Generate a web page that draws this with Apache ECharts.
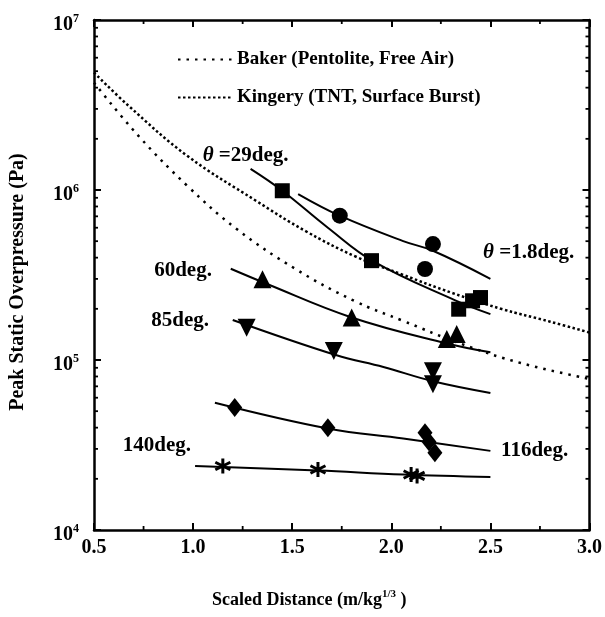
<!DOCTYPE html>
<html><head><meta charset="utf-8">
<script src="https://cdn.jsdelivr.net/npm/echarts@6/dist/echarts.min.js"></script>
<style>html,body{margin:0;padding:0;background:#fff}#c{width:605px;height:617px}</style>
</head><body><div id="c"></div>
<script>
const FONT = '"Liberation Serif", "Times New Roman", serif';

// ---- data (x: scaled distance m/kg^1/3, y: peak static overpressure Pa) ----
const sq29   = [[1.45,9.9e5],[1.90,3.84e5],[2.34,1.99e5],[2.41,2.23e5],[2.45,2.33e5]];
const circ18 = [[1.74,7.06e5],[2.21,4.81e5],[2.17,3.43e5]];
const tri60  = [[1.35,2.99e5],[1.80,1.78e5],[2.28,1.33e5],[2.33,1.42e5]];
const tri85  = [[1.27,1.55e5],[1.71,1.13e5],[2.21,8.6e4],[2.21,7.2e4]];
const dia116 = [[1.21,5.25e4],[1.68,4.0e4],[2.17,3.73e4],[2.19,3.3e4],[2.22,2.85e4]];
const ast140 = [[1.15,2.38e4],[1.63,2.27e4],[2.10,2.12e4],[2.13,2.08e4]];

const fit29  = [[1.29,1.33e6],[1.45,9.9e5],[1.68,6.0e5],[1.91,3.8e5],[2.32,2.25e5],[2.5,1.86e5]];
const fit18  = [[1.53,9.47e5],[1.74,7.06e5],[2.06,5.0e5],[2.21,4.39e5],[2.5,3.0e5]];
const fit60  = [[1.19,3.44e5],[1.37,2.81e5],[1.80,1.78e5],[2.27,1.26e5],[2.5,1.11e5]];
const fit85  = [[1.20,1.72e5],[1.72,1.07e5],[1.96,9.1e4],[2.21,7.5e4],[2.5,6.4e4]];
const fit116 = [[1.11,5.6e4],[1.68,3.95e4],[2.06,3.45e4],[2.5,2.92e4]];
const fit140 = [[1.01,2.38e4],[1.63,2.24e4],[2.06,2.12e4],[2.5,2.05e4]];

const kingery = [[0.5,4.91e6],[0.673,3.14e6],[0.97,1.59e6],[1.317,8.65e5],[1.564,5.76e5],[1.812,4.1e5],
                 [2.059,3.17e5],[2.307,2.48e5],[2.554,2.0e5],[2.802,1.68e5],[3.0,1.45e5]];
const baker   = [[0.5,4.28e6],[0.723,2.09e6],[0.97,1.06e6],[1.218,5.92e5],[1.515,3.44e5],[1.812,2.23e5],
                 [2.059,1.70e5],[2.356,1.24e5],[2.653,9.6e4],[3.0,7.74e4]];

const xTickValues = [0.5,1.0,1.5,2.0,2.5,3.0];
const xMinorTicks = [0.75,1.25,1.75,2.25,2.75];
const yDecades = [1e4,1e5,1e6,1e7];

const annoText  = ['{i|θ} =29deg.','{i|θ} =1.8deg.','60deg.','85deg.','116deg.','140deg.'];
const annoX     = [1.265, 2.693, 1.095, 1.08, 2.554, 0.99];
const annoY     = [1.59e6, 4.27e5, 3.35e5, 1.70e5, 2.92e4, 3.12e4];
const annoAlign = ['center','center','right','right','left','right'];

const legendNames = ['Baker (Pentolite, Free Air)','Kingery (TNT, Surface Burst)'];

// ---- chart ----
const yMinor = [];
for (let d = 0; d < 3; d++) for (let k = 2; k <= 9; k++) yMinor.push(k * yDecades[d]);

const chart = echarts.init(document.getElementById('c'), null, {renderer:'canvas'});
const axisLineStyle = {color:'#000', width:2.5};
const tickStyle = {color:'#000', width:2};

const rich = {
  b:{fontFamily:FONT, fontWeight:'bold', fontSize:20, color:'#000'},
  s:{fontFamily:FONT, fontWeight:'bold', fontSize:12, color:'#000', padding:[0,0,13,0]}
};

function markerSeries(name, data, symbol, size, extra) {
  return Object.assign({
    name, type:'scatter', data, symbol, symbolSize:size, z:5,
    itemStyle:{color:'#000', opacity:1}
  }, extra || {});
}
function fitSeries(data) {
  return {type:'line', data, smooth:0.4, symbol:'none', lineStyle:{color:'#000', width:2}, z:4, silent:true};
}

const option = {
  animation:false,
  backgroundColor:'#fff',
  textStyle:{fontFamily:FONT},
  grid:{left:85, right:15, top:20, bottom:87},
  legend:{
    data:legendNames, orient:'vertical', left:172, top:45, itemWidth:54, itemHeight:14, itemGap:19,
    itemStyle:{opacity:0},
    textStyle:{fontFamily:FONT, fontWeight:'bold', fontSize:19, color:'#000'},
    selectedMode:false
  },
  xAxis:[
    {type:'value', min:0.5, max:3.0, interval:0.5, position:'bottom',
     axisLine:{show:true, onZero:false, lineStyle:axisLineStyle},
     axisTick:{show:true, inside:true, length:7, lineStyle:tickStyle},
     axisLabel:{margin:8, fontFamily:FONT, fontWeight:'bold', fontSize:20, color:'#000',
                formatter:v => v.toFixed(1)},
     splitLine:{show:false}},
    {type:'value', min:0.5, max:3.0, interval:0.5, position:'top',
     axisLine:{show:true, onZero:false, lineStyle:axisLineStyle},
     axisTick:{show:true, inside:true, length:7, lineStyle:tickStyle},
     axisLabel:{show:false}, splitLine:{show:false}}
  ],
  yAxis:[
    {type:'log', logBase:10, min:1e4, max:1e7, position:'left',
     axisLine:{show:true, onZero:false, lineStyle:axisLineStyle},
     axisTick:{show:true, inside:true, length:7, lineStyle:tickStyle},
     axisLabel:{margin:15, padding:[10,0,0,0], rich,
                formatter:v => '{b|10}{s|' + Math.round(Math.log10(v)) + '}'},
     splitLine:{show:false},
     name:'Peak Static Overpressure (Pa)', nameLocation:'middle', nameRotate:90, nameGap:66,
     nameTextStyle:{fontFamily:FONT, fontWeight:'bold', fontSize:20, color:'#000', padding:[0,14,0,0]}},
    {type:'log', logBase:10, min:1e4, max:1e7, position:'right',
     axisLine:{show:true, onZero:false, lineStyle:axisLineStyle},
     axisTick:{show:true, inside:true, length:7, lineStyle:tickStyle},
     axisLabel:{show:false}, splitLine:{show:false}}
  ],
  graphic:[{
    type:'text', left:212, top:589, z:10,
    style:{x:0, y:0, text:'{b|Scaled Distance (m/kg}{s|1/3}{b| )}',
      rich:{b:{fontFamily:FONT, fontWeight:'bold', fontSize:18, color:'#000'},
            s:{fontFamily:FONT, fontWeight:'bold', fontSize:11, color:'#000', padding:[0,0,11,0]}}}
  }],
  series:[
    {name:legendNames[0], type:'line', data:baker, smooth:0.4, symbol:'none', silent:true, z:3,
     lineStyle:{color:'#000', width:2.5, type:[2.5,6]}},
    {name:legendNames[1], type:'line', data:kingery, smooth:0.4, symbol:'none', silent:true, z:3,
     lineStyle:{color:'#000', width:2.5, type:[2.5,2.5]}},
    fitSeries(fit29), fitSeries(fit18), fitSeries(fit60), fitSeries(fit85), fitSeries(fit116), fitSeries(fit140),
    markerSeries('29deg', sq29, 'rect', 15),
    markerSeries('1.8deg', circ18, 'circle', 16),
    markerSeries('60deg', tri60, 'triangle', 18),
    markerSeries('85deg', tri85, 'triangle', 18, {symbolRotate:180}),
    markerSeries('116deg', dia116, 'diamond', [15,19]),
    markerSeries('140deg', ast140, 'path://M0,-10L0,10M-8.66,-5L8.66,5M-8.66,5L8.66,-5', 15,
      {itemStyle:{color:'none', borderColor:'#000', borderWidth:3, opacity:1}}),
    {type:'scatter', symbolSize:0, silent:true, z:6, itemStyle:{opacity:1},
     data: annoText.map((t,i) => ({value:[annoX[i], annoY[i]],
       label:{show:true, position:'inside', align:annoAlign[i], verticalAlign:'middle',
              formatter:t, fontFamily:FONT, fontWeight:'bold', fontSize:21, color:'#000',
              rich:{i:{fontFamily:FONT, fontWeight:'bold', fontStyle:'italic', fontSize:21, color:'#000'}}}}))},
    {type:'custom', silent:true, z:2, clip:false,
     data: yMinor.map(v => [0.5, v]),
     renderItem:(params, api) => {
       const v = api.value(1);
       const l = api.coord([0.5, v]), r = api.coord([3.0, v]);
       return {type:'group', children:[
         {type:'line', shape:{x1:l[0], y1:l[1], x2:l[0]+4, y2:l[1]}, style:{stroke:'#000', lineWidth:1.8}},
         {type:'line', shape:{x1:r[0], y1:r[1], x2:r[0]-4, y2:r[1]}, style:{stroke:'#000', lineWidth:1.8}}
       ]};
     }},
    {type:'custom', silent:true, z:2, clip:false,
     data: xMinorTicks.map(v => [v, 1e4]),
     renderItem:(params, api) => {
       const x = api.value(0);
       const b = api.coord([x, 1e4]), t = api.coord([x, 1e7]);
       return {type:'group', children:[
         {type:'line', shape:{x1:b[0], y1:b[1], x2:b[0], y2:b[1]-4}, style:{stroke:'#000', lineWidth:1.8}},
         {type:'line', shape:{x1:t[0], y1:t[1], x2:t[0], y2:t[1]+4}, style:{stroke:'#000', lineWidth:1.8}}
       ]};
     }}
  ]
};
chart.setOption(option);
</script>
</body></html>
